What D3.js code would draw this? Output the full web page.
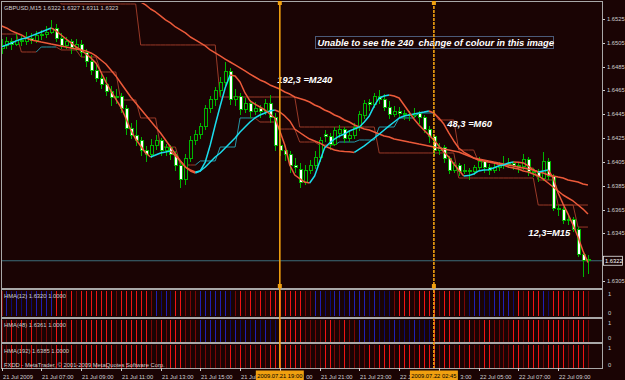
<!DOCTYPE html>
<html><head><meta charset="utf-8">
<script src="https://cdn.jsdelivr.net/npm/d3@7"></script>
<style>html,body{margin:0;padding:0;background:#1a0404;}svg{display:block;}</style>
</head><body>
<svg id="chart" width="625" height="380"></svg>
<script>
// ---------------- DATA ----------------
const symbolTitle = "GBPUSD,M15  1.6322 1.6327 1.6311 1.6323";
const lastPrice = 1.6322;
const opens = [
1.6500,1.6503,1.6506,1.6504,1.6507,1.6506,1.6509,1.6507,1.6511,1.6512,
1.6514,1.6517,1.6509,1.6503,1.6506,1.6501,1.6504,1.6497,1.6489,1.6482,
1.6475,1.6470,1.6464,1.6459,1.6460,1.6450,1.6433,1.6427,1.6423,1.6415,
1.6411,1.6419,1.6423,1.6415,1.6417,1.6411,1.6402,1.6390,1.6408,1.6423,
1.6428,1.6435,1.6450,1.6457,1.6465,1.6472,1.6481,1.6457,1.6460,1.6449,
1.6454,1.6447,1.6450,1.6447,1.6454,1.6442,1.6419,1.6415,1.6411,1.6402,
1.6399,1.6388,1.6398,1.6402,1.6409,1.6428,1.6426,1.6420,1.6429,1.6432,
1.6425,1.6427,1.6434,1.6444,1.6455,1.6453,1.6460,1.6457,1.6451,1.6445,
1.6447,1.6446,1.6445,1.6444,1.6446,1.6442,1.6432,1.6426,1.6415,1.6417,
1.6408,1.6398,1.6402,1.6397,1.6398,1.6397,1.6400,1.6405,1.6400,1.6398,
1.6400,1.6402,1.6403,1.6404,1.6402,1.6401,1.6407,1.6397,1.6396,1.6391,
1.6405,1.6393,1.6366,1.6365,1.6356,1.6357,1.6348,1.6327,1.6322];
const highs = [
1.6508,1.6510,1.6509,1.6512,1.6511,1.6514,1.6513,1.6515,1.6516,1.6519,
1.6524,1.6521,1.6513,1.6510,1.6508,1.6508,1.6507,1.6500,1.6495,1.6488,
1.6480,1.6476,1.6469,1.6466,1.6463,1.6453,1.6438,1.6440,1.6426,1.6418,
1.6424,1.6428,1.6425,1.6420,1.6419,1.6414,1.6405,1.6412,1.6427,1.6432,
1.6438,1.6453,1.6460,1.6468,1.6476,1.6489,1.6484,1.6466,1.6463,1.6459,
1.6457,1.6455,1.6453,1.6458,1.6461,1.6446,1.6424,1.6418,1.6414,1.6408,
1.6404,1.6402,1.6407,1.6414,1.6426,1.6432,1.6429,1.6434,1.6436,1.6434,
1.6432,1.6438,1.6448,1.6457,1.6458,1.6463,1.6465,1.6462,1.6456,1.6452,
1.6451,1.6449,1.6448,1.6450,1.6448,1.6444,1.6435,1.6428,1.6421,1.6419,
1.6410,1.6405,1.6404,1.6403,1.6400,1.6402,1.6409,1.6407,1.6403,1.6404,
1.6405,1.6410,1.6408,1.6406,1.6405,1.6412,1.6409,1.6400,1.6399,1.6413,
1.6408,1.6395,1.6369,1.6367,1.6360,1.6359,1.6350,1.6330,1.6327];
const lows = [
1.6496,1.6500,1.6499,1.6502,1.6502,1.6503,1.6504,1.6505,1.6507,1.6509,
1.6512,1.6506,1.6500,1.6500,1.6496,1.6498,1.6493,1.6485,1.6478,1.6472,
1.6466,1.6460,1.6452,1.6454,1.6446,1.6428,1.6424,1.6418,1.6410,1.6405,
1.6408,1.6415,1.6410,1.6410,1.6407,1.6397,1.6383,1.6386,1.6405,1.6419,
1.6424,1.6432,1.6446,1.6452,1.6460,1.6468,1.6453,1.6452,1.6444,1.6446,
1.6442,1.6444,1.6442,1.6444,1.6438,1.6414,1.6410,1.6406,1.6396,1.6396,
1.6383,1.6386,1.6395,1.6399,1.6405,1.6422,1.6415,1.6418,1.6425,1.6421,
1.6422,1.6424,1.6431,1.6441,1.6448,1.6450,1.6454,1.6448,1.6441,1.6443,
1.6442,1.6440,1.6439,1.6442,1.6437,1.6429,1.6421,1.6410,1.6411,1.6404,
1.6395,1.6396,1.6393,1.6395,1.6390,1.6394,1.6397,1.6396,1.6394,1.6396,
1.6397,1.6399,1.6400,1.6398,1.6396,1.6398,1.6393,1.6392,1.6388,1.6389,
1.6390,1.6364,1.6360,1.6353,1.6352,1.6346,1.6325,1.6308,1.6311];
const closes = [
1.6503,1.6506,1.6504,1.6507,1.6506,1.6509,1.6507,1.6511,1.6512,1.6514,
1.6517,1.6509,1.6503,1.6506,1.6501,1.6504,1.6497,1.6489,1.6482,1.6475,
1.6470,1.6464,1.6459,1.6460,1.6450,1.6433,1.6427,1.6423,1.6415,1.6411,
1.6419,1.6423,1.6415,1.6417,1.6411,1.6402,1.6390,1.6408,1.6423,1.6428,
1.6435,1.6450,1.6457,1.6465,1.6472,1.6481,1.6457,1.6460,1.6449,1.6454,
1.6447,1.6450,1.6447,1.6454,1.6442,1.6419,1.6415,1.6411,1.6402,1.6400,
1.6388,1.6398,1.6402,1.6409,1.6423,1.6426,1.6420,1.6431,1.6432,1.6425,
1.6427,1.6434,1.6445,1.6454,1.6453,1.6460,1.6457,1.6451,1.6445,1.6447,
1.6446,1.6445,1.6444,1.6446,1.6442,1.6432,1.6426,1.6415,1.6417,1.6408,
1.6398,1.6402,1.6397,1.6398,1.6397,1.6400,1.6405,1.6400,1.6398,1.6400,
1.6402,1.6403,1.6404,1.6402,1.6401,1.6407,1.6397,1.6396,1.6393,1.6405,
1.6393,1.6366,1.6365,1.6356,1.6357,1.6348,1.6327,1.6322,1.6323];

const hma12 = [
1.65015,1.65032,1.65049,1.65066,1.65082,1.65091,1.65108,1.65124,1.65141,1.65158,
1.65175,1.6515,1.65116,1.65082,1.65049,1.65015,1.6499,1.64956,1.64923,1.64881,
1.64805,1.64721,1.64646,1.64578,1.64511,1.64419,1.64318,1.64242,1.64184,1.64125,
1.64091,1.64108,1.64125,1.64133,1.64142,1.641,1.64058,1.64007,1.63974,1.63957,
1.63974,1.64049,1.64192,1.6436,1.6452,1.64671,1.6478,1.64772,1.64721,1.64629,
1.64562,1.64536,1.64511,1.64486,1.64452,1.64419,1.6431,1.64192,1.64024,1.6394,
1.6391,1.63881,1.63873,1.63932,1.64049,1.64167,1.64209,1.64242,1.64268,1.64284,
1.6431,1.64326,1.64343,1.64385,1.64436,1.6452,1.64587,1.64604,1.64612,1.64604,
1.64587,1.64528,1.64469,1.6441,1.6436,1.64318,1.64276,1.64234,1.64184,1.64133,
1.64091,1.64032,1.63982,1.63932,1.63935,1.63948,1.63974,1.63982,1.63985,1.63999,
1.64016,1.64024,1.64041,1.64049,1.64047,1.64041,1.64016,1.63982,1.63965,1.63974,
1.63982,1.63915,1.63789,1.63696,1.63612,1.6352,1.63419,1.63302,1.63205];
const hma48 = [
1.65192,1.65175,1.6515,1.65133,1.65116,1.65091,1.65074,1.65066,1.65057,1.65049,
1.6504,1.65032,1.65024,1.65015,1.65007,1.64998,1.6499,1.64982,1.64965,1.6494,
1.64906,1.64872,1.64822,1.64772,1.64713,1.64654,1.64595,1.64545,1.64494,1.64444,
1.64394,1.64343,1.64293,1.64234,1.64175,1.64116,1.64058,1.64007,1.63982,1.63965,
1.63974,1.64007,1.64049,1.64091,1.64125,1.64167,1.64209,1.64251,1.64301,1.64343,
1.64385,1.64419,1.64444,1.64461,1.64478,1.64486,1.64469,1.64436,1.64394,1.64326,
1.64297,1.64268,1.64242,1.64226,1.64209,1.64184,1.64167,1.6415,1.64142,1.64138,
1.64135,1.6413,1.64158,1.64184,1.64217,1.64251,1.64284,1.64318,1.64352,1.64385,
1.64419,1.64436,1.64444,1.64452,1.64461,1.64469,1.64478,1.64461,1.64419,1.64368,
1.64293,1.64226,1.64167,1.64133,1.64108,1.64083,1.64066,1.64058,1.64049,1.64041,
1.64032,1.64024,1.64007,1.63999,1.6399,1.63974,1.63965,1.63948,1.63932,1.63906,
1.63873,1.63839,1.63806,1.63772,1.63747,1.63722,1.63688,1.63654,1.63612];
const hma192Start = 24;
const hma192 = [
1.65511,1.65486,1.65452,1.65427,1.65393,1.65368,
1.65334,1.65309,1.65276,1.65242,1.65217,1.65183,1.65158,1.65133,1.65099,1.65074,
1.65049,1.65024,1.6499,1.64965,1.6494,1.64914,1.64889,1.64864,1.64839,1.64814,
1.64788,1.64763,1.64738,1.64721,1.64696,1.64679,1.64662,1.64637,1.6462,1.64595,
1.64583,1.6457,1.64553,1.64528,1.64511,1.64486,1.64469,1.64444,1.64427,1.64402,
1.64385,1.6436,1.64343,1.64326,1.64318,1.64301,1.64284,1.64268,1.64259,1.64242,
1.64234,1.64226,1.64217,1.64209,1.642,1.64192,1.64184,1.64175,1.64167,1.64158,
1.6415,1.64142,1.64133,1.64116,1.641,1.64083,1.64074,1.64066,1.64058,1.64049,
1.64041,1.64032,1.64024,1.64016,1.64007,1.63999,1.6399,1.63982,1.63965,1.63957,
1.6394,1.63932,1.63923,1.63915,1.63898,1.6389,1.63881,1.63864,1.63856];
// multi-timeframe HMA steps
const m240Starts = [0,12,28,44,60,76,92,108];
const m240Levels = [1.65494,1.65376,1.65032,1.64595,1.64343,1.64125,1.63915,1.63688];
const m60Levels = [1.65124,1.64973,1.65015,1.6499,1.64931,1.64805,1.6457,1.64419,1.64175,1.64024,
1.64058,1.64175,1.64419,1.64385,1.64326,1.64217,1.64192,1.64217,1.64234,1.64343,
1.64419,1.64461,1.64402,1.6415,1.64049,1.64024,1.63999,1.63898,1.63688,1.63503];
// 1.6325 is hidden behind the last-price box in the reference
const priceTicks = [1.6525,1.6505,1.6485,1.6465,1.6445,1.6425,1.6405,1.6385,1.6365,1.6345,1.6305];
const timeTickIdx = [0,8,16,24,32,40,48,56,64,72,80,88,96,104,112];
const timeLabels = ["21 Jul 2009","21 Jul 07:00","21 Jul 09:00","21 Jul 11:00","21 Jul 13:00","21 Jul 15:00",
"21 Jul 17:00","21 Jul 19:00","21 Jul 21:00","21 Jul 23:00","22 Jul 01:00","22 Jul 03:00","22 Jul 05:00","22 Jul 07:00","22 Jul 09:00"];
// parts of labels left visible beside the orange time boxes (null = whole label)
const timeLabelShown = [null,null,null,null,null,null,"21 Jul","00",null,null,"22 J","3:00",null,null,null];
const vLineIdx = [56,87];
const vLineLabels = ["2009.07.21 19:00","2009.07.22 02:45"];
const panelLabels = ["HMA(12) 1.6320 1.0000","HMA(48) 1.6361 1.0000","HMA(192) 1.6385 1.0000"];
const copyright = "FXDD - MetaTrader, \u00A9 2001-2009 MetaQuotes Software Corp.";
const notes = [
 {text:"192,3 =M240", price:1.6471, idx:55.5},
 {text:"48,3 =M60", price:1.6434, idx:89.7},
 {text:"12,3=M15", price:1.6343, idx:106}
];
const boxNote = "Unable to see the 240  change of colour in this image";

// ---------------- DRAW ----------------
const BG="#1a0404", GREEN="#00b400", CYAN="#1adcec", RED="#ec5a3a",
      STEP_RED="#9a3a28", STEP_CYAN="#2698a8", GRID="#a8a8a8", TXT="#cfcfcf", ORANGE="#f0a010";
const FONT="'Liberation Sans', Arial, sans-serif";
const svg=d3.select("#chart");
svg.append("rect").attr("width",625).attr("height",380).attr("fill",BG);

const n=closes.length;
const idx=d3.range(n);
const x=d3.scaleLinear().domain([0,118]).range([1.5,587.96]);
const y=d3.scaleLinear().domain([1.6305,1.6525]).range([281,19]);

// ---- sub panels ----
const panels=[{top:290,bot:316,vals:hma12,start:0},{top:319,bot:341.5,vals:hma48,start:0},{top:344,bot:367.5,vals:hma192,start:hma192Start}];
panels.forEach(p=>{
  const yp=d3.scaleLinear().domain([0,1]).range([p.bot,p.top+1]);
  const g=svg.append("g").attr("shape-rendering","crispEdges");
  g.selectAll("line").data(idx).join("line")
    .attr("x1",i=>Math.round(x(i))+0.5).attr("x2",i=>Math.round(x(i))+0.5)
    .attr("y1",yp(0)).attr("y2",yp(1))
    .attr("stroke-width",1.4)
    .attr("stroke",i=>{
      const k=i-p.start;
      const up = (k>=1 && k<p.vals.length) ? p.vals[k]>p.vals[k-1] : false;
      const bull = closes[i]>=opens[i];
      if(up) return bull? "#2020b4":"#0c0c70";
      return bull? "#7a0606":"#f01414";
    });
});

// ---- main panel ----
svg.append("defs").append("clipPath").attr("id","mc").append("rect").attr("x",2).attr("y",3).attr("width",600).attr("height",284);
const main=svg.append("g").attr("clip-path","url(#mc)");

main.append("line").attr("x1",2).attr("x2",602).attr("y1",y(lastPrice)).attr("y2",y(lastPrice))
  .attr("stroke","#3d6c7a").attr("stroke-width",1);

function coloredLine(g, vals, start, colorOf, width){
  const segs=[];
  for(let k=1;k<vals.length;k++){
    const c=colorOf(k);
    if(segs.length && segs[segs.length-1].c===c) segs[segs.length-1].pts.push(k);
    else segs.push({c:c,pts:[k-1,k]});
  }
  const line=d3.line().x(k=>x(k+start)).y(k=>y(vals[k]));
  g.append("g").selectAll("path").data(segs).join("path")
   .attr("d",s=>line(s.pts)).attr("fill","none").attr("stroke",s=>s.c)
   .attr("stroke-width",width).attr("stroke-linejoin","round");
}

// step series built from block levels
const m240=idx.map(i=>{let b=0;m240Starts.forEach((s,j)=>{if(i>=s)b=j;});return m240Levels[b];});
const m60=idx.map(i=>m60Levels[Math.floor(i/4)]);
coloredLine(main,m240,0,k=>STEP_RED,1);
coloredLine(main,m60,0,k=>{const b=Math.floor(k/4);return (b>0&&m60Levels[b]>m60Levels[b-1])?STEP_CYAN:STEP_RED;},1);

// candles
const cg=main.append("g").attr("shape-rendering","crispEdges");
cg.selectAll("line").data(idx).join("line")
  .attr("x1",i=>Math.round(x(i))+0.5).attr("x2",i=>Math.round(x(i))+0.5)
  .attr("y1",i=>y(highs[i])).attr("y2",i=>y(lows[i])).attr("stroke",GREEN);
cg.selectAll("rect").data(idx).join("rect")
  .attr("x",i=>Math.round(x(i))-1).attr("width",3)
  .attr("y",i=>y(Math.max(opens[i],closes[i])))
  .attr("height",i=>Math.max(1,Math.abs(y(opens[i])-y(closes[i]))))
  .attr("fill",i=>closes[i]<opens[i]?"#ffffff":BG)
  .attr("stroke",GREEN).attr("stroke-width",1);

// HMA lines
coloredLine(main,hma192,hma192Start,k=>hma192[k]>hma192[k-1]?CYAN:RED,1.5);
coloredLine(main,hma48,0,k=>hma48[k]>hma48[k-1]?CYAN:RED,1.5);
coloredLine(main,hma12,0,k=>hma12[k]>hma12[k-1]?CYAN:RED,1.5);

// ---- frames ----
const fr=svg.append("g").attr("shape-rendering","crispEdges");
fr.append("line").attr("x1",1).attr("x2",603).attr("y1",1.5).attr("y2",1.5).attr("stroke",GRID).attr("stroke-width",1.5);
fr.append("line").attr("x1",1.5).attr("x2",1.5).attr("y1",1).attr("y2",369).attr("stroke",GRID);
fr.append("line").attr("x1",602.5).attr("x2",602.5).attr("y1",1).attr("y2",369).attr("stroke",GRID);
[288.5,317.5,342.5].forEach(v=>fr.append("line").attr("x1",1).attr("x2",603).attr("y1",v).attr("y2",v).attr("stroke",GRID).attr("stroke-width",2));
fr.append("line").attr("x1",1).attr("x2",603).attr("y1",368.5).attr("y2",368.5).attr("stroke",GRID);

// price axis
const ax=svg.append("g").attr("font-family",FONT).attr("font-size",5.8).attr("fill",TXT);
priceTicks.forEach(p=>{
  ax.append("line").attr("x1",603).attr("x2",605).attr("y1",Math.round(y(p))+0.5).attr("y2",Math.round(y(p))+0.5).attr("stroke",TXT);
  ax.append("text").attr("x",607).attr("y",y(p)+2).text(p.toFixed(4));
});
// last price box
ax.append("rect").attr("x",603.5).attr("y",y(lastPrice)-4.5).attr("width",19).attr("height",9).attr("fill",BG).attr("stroke","#e8e8e8").attr("stroke-width",0.8);
ax.append("text").attr("x",605).attr("y",y(lastPrice)+2).attr("fill","#ffffff").text(lastPrice.toFixed(4));
// sub panel scales
[[294,313],[323,338],[348,365]].forEach(a=>{
  ax.append("text").attr("x",608).attr("y",a[0]+2).text("1");
  ax.append("text").attr("x",608).attr("y",a[1]+2).text("0");
});
// time axis
timeTickIdx.forEach((ti,j)=>{
  const xx=Math.round(x(ti));
  ax.append("line").attr("x1",xx+0.5).attr("x2",xx+0.5).attr("y1",368).attr("y2",371).attr("stroke",TXT);
  const shown=timeLabelShown[j];
  if(shown===null){
    ax.append("text").attr("x",xx+1).attr("y",378.5).text(timeLabels[j]);
  } else if(timeLabels[j].startsWith(shown)){
    ax.append("text").attr("x",xx+1).attr("y",378.5).text(shown);
  } else {
    const tmp=ax.append("text").attr("x",xx+1).attr("y",378.5).text(timeLabels[j]);
    const w=tmp.node().getComputedTextLength(); tmp.remove();
    ax.append("text").attr("x",xx+1+w).attr("y",378.5).attr("text-anchor","end").text(shown);
  }
});

// titles
ax.append("text").attr("x",4).attr("y",9.5).text(symbolTitle);
const py=[297.5,326.5,352.5];
panelLabels.forEach((t,j)=>ax.append("text").attr("x",4).attr("y",py[j]).text(t));
ax.append("text").attr("x",4).attr("y",366.5).text(copyright);

// notes
const ng=svg.append("g").attr("font-family",FONT).attr("font-weight","bold").attr("font-style","italic").attr("fill","#ffffff");
notes.forEach(nt=>ng.append("text").attr("x",x(nt.idx)).attr("y",y(nt.price)).attr("font-size",9.4).text(nt.text));
ng.append("rect").attr("x",315.5).attr("y",36.5).attr("width",238).attr("height",12).attr("fill",BG).attr("stroke","#4b5a78");
ng.append("text").attr("x",317.5).attr("y",45.8).attr("font-size",9.4).style("white-space","pre").text(boxNote);

// vertical lines
vLineIdx.forEach((vi,j)=>{
  const xx=x(vi);
  svg.append("line").attr("x1",xx).attr("x2",xx).attr("y1",2).attr("y2",368).attr("stroke",ORANGE).attr("stroke-width",1.6)
    .attr("stroke-dasharray",j===1?"3,1":null);
  svg.append("rect").attr("x",xx-2).attr("y",1).attr("width",4).attr("height",4).attr("fill",ORANGE);
  svg.append("rect").attr("x",xx-2).attr("y",284).attr("width",4).attr("height",4).attr("fill",ORANGE);
  svg.append("rect").attr("x",xx-24).attr("y",370.5).attr("width",48).attr("height",10).attr("fill",ORANGE);
  svg.append("text").attr("x",xx).attr("y",378).attr("text-anchor","middle").attr("font-family",FONT).attr("font-size",5.8).attr("fill","#000").text(vLineLabels[j]);
});
</script>
</body></html>
